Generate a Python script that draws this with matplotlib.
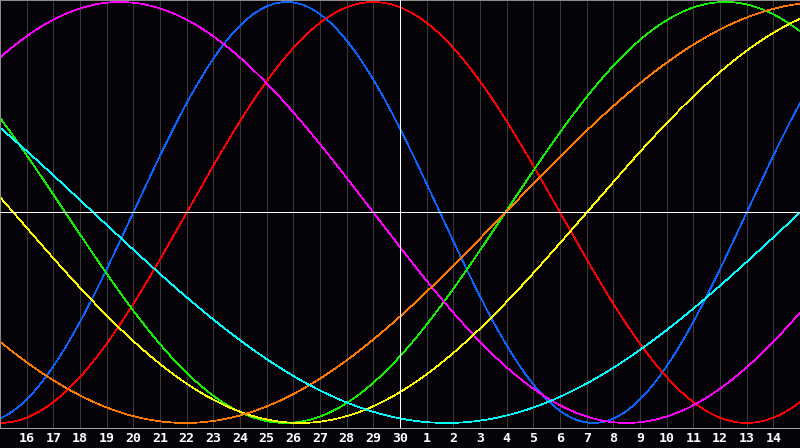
"""
Biorhythm chart: seven cycles over a 30-day window, today marked in white.
"""

import numpy as np
import matplotlib
matplotlib.use("Agg")
import matplotlib.pyplot as plt

# day labels along the bottom (window runs from the 15th to the 15th)
day_labels = [16, 17, 18, 19, 20, 21, 22, 23, 24, 25, 26, 27, 28, 29, 30,
              1, 2, 3, 4, 5, 6, 7, 8, 9, 10, 11, 12, 13, 14]
n_days = 30
today_index = 15

# cycles: period in days, day index where the cycle crosses zero going up
cycle_names = ["physical", "emotional", "intellectual", "intuitive",
               "aesthetic", "awareness", "spiritual"]
cycle_periods = [23, 28, 33, 38, 43, 48, 53]
cycle_rise_day = [5.0, 7.0, 18.95, -5.0, 22.0, 18.95, 30.0]
cycle_colors = ["#0a64ff", "#ff0000", "#14f000", "#ff00ff",
                "#ffff00", "#ff7800", "#00ffff"]

BG = "#050308"
PX = 0.72  # one pixel at 100 dpi, in points

fig = plt.figure(figsize=(8, 4.48), dpi=100)
fig.patch.set_facecolor(BG)
ax = fig.add_axes([0, 20 / 448, 1, 428 / 448])
ax.set_facecolor(BG)

# day grid
for i in range(1, n_days):
    ax.axvline(i, color="#3a3a3a", lw=PX, zorder=1, antialiased=False)
ax.axvline(today_index, color="white", lw=PX, zorder=3, antialiased=False)
ax.axhline(0, color="white", lw=PX, zorder=3, antialiased=False)

# cycles
days = np.linspace(0, n_days, 801)
for name, period, rise, color in zip(cycle_names, cycle_periods,
                                     cycle_rise_day, cycle_colors):
    values = np.sin(2 * np.pi * (days - rise) / period)
    ax.plot(days, values, color=color, lw=0.5, zorder=2, antialiased=False,
            label=name)

ax.set_xlim(0, n_days)
ax.set_ylim(-1.024, 1.0095)
ax.set_yticks([])
ax.set_xticks(range(1, n_days))
ax.set_xticklabels([str(d) for d in day_labels], color="white",
                   fontsize=9.5, fontweight="bold", fontfamily="DejaVu Sans Mono")
ax.tick_params(axis="x", length=0, pad=3)

for side in ["left", "right", "top", "bottom"]:
    ax.spines[side].set_color("#8c8c8c")
    ax.spines[side].set_linewidth(PX)
ax.spines["bottom"].set_color("#a0a0a0")

fig.savefig("out.png", dpi=100, facecolor=fig.get_facecolor())
plt.close(fig)
